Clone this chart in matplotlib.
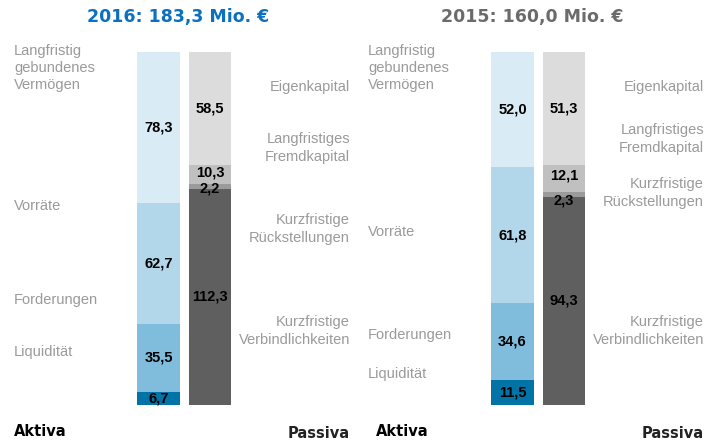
import matplotlib.pyplot as plt
import numpy as np

# data (bottom to top)
aktiva_labels = ['Liquidität', 'Forderungen', 'Vorräte', 'Langfristig\ngebundenes\nVermögen']
passiva_labels = ['Kurzfristige\nVerbindlichkeiten', 'Kurzfristige\nRückstellungen',
                  'Langfristiges\nFremdkapital', 'Eigenkapital']
aktiva_2016 = [6.7, 35.5, 62.7, 78.3]
passiva_2016 = [112.3, 2.2, 10.3, 58.5]
aktiva_2015 = [11.5, 34.6, 61.8, 52.0]
passiva_2015 = [94.3, 2.3, 12.1, 51.3]
titles = ['2016: 183,3 Mio. €', '2015: 160,0 Mio. €']
totals = [183.3, 160.0]

aktiva_colors = ['#0173a7', '#80bcdc', '#b3d7ea', '#d9ebf5']
passiva_colors = ['#5f5f5f', '#9b9b9b', '#c0c0c0', '#dcdcdc']
title_colors = ['#0a70bf', '#6b6b6b']

W, H = 708, 442
fig = plt.figure(figsize=(W / 100, H / 100), dpi=100)

def fx(px):
    return px / W

def fy(py):
    return 1 - py / H

lab_font = dict(family='Liberation Sans', fontsize=10.5, color='#9a9a9a')
val_font = dict(family='Liberation Sans', fontsize=10.5, fontweight='bold', color='black')

# label positions (pixel y of text centre) per panel
left_lab_y = [[352, 300, 206, 68], [374, 335, 232, 68]]
right_lab_y = [[331, 229, 148, 87], [331, 193, 139, 87]]
# vertical nudges (points) of the passiva value labels
pas_nudge = [[0, -1.5, 1.5, 0], [0, -4.5, 2.5, 0]]
panels = [(aktiva_2016, passiva_2016), (aktiva_2015, passiva_2015)]

for p in range(2):
    x0 = 0 if p == 0 else 354
    ax = fig.add_axes([fx(x0), fy(405), fx(354), 353 / H])
    ax.set_xlim(0, 354)
    ax.set_ylim(0, totals[p])
    ax.axis('off')
    akt, pas = panels[p]
    for vals, cols, xc, w, nud in [(akt, aktiva_colors, 158.5, 43, [0] * 4),
                                   (pas, passiva_colors, 210, 42, pas_nudge[p])]:
        bottoms = np.concatenate([[0], np.cumsum(vals)[:-1]])
        ax.bar(xc, vals, bottom=bottoms, width=w, color=cols, linewidth=0)
        for v, b, n in zip(vals, bottoms, nud):
            ax.annotate(f'{v:.1f}'.replace('.', ','), (xc, b + v / 2), xytext=(0, n),
                        textcoords='offset points', ha='center', va='center', **val_font)

    fig.text(fx(x0 + 178), fy(17), titles[p], ha='center', va='center',
             family='DejaVu Sans', fontsize=12.5, fontweight='heavy', color=title_colors[p])
    for lab, y in zip(aktiva_labels, left_lab_y[p]):
        fig.text(fx(x0 + 14), fy(y), lab, ha='left', va='center', linespacing=1.3, **lab_font)
    for lab, y in zip(passiva_labels, right_lab_y[p]):
        fig.text(fx(x0 + 350), fy(y), lab, ha='right', va='center', multialignment='right',
                 linespacing=1.3, **lab_font)
    fig.text(fx(x0 + 14 + (8 if p else 0)), fy(432), 'Aktiva', ha='left', va='center',
             family='DejaVu Sans', fontsize=10.5, fontweight='bold', color='black')
    fig.text(fx(x0 + 350), fy(433), 'Passiva', ha='right', va='center',
             family='DejaVu Sans', fontsize=10.5, fontweight='bold', color='#222222')

fig.savefig('out.png', dpi=100)
